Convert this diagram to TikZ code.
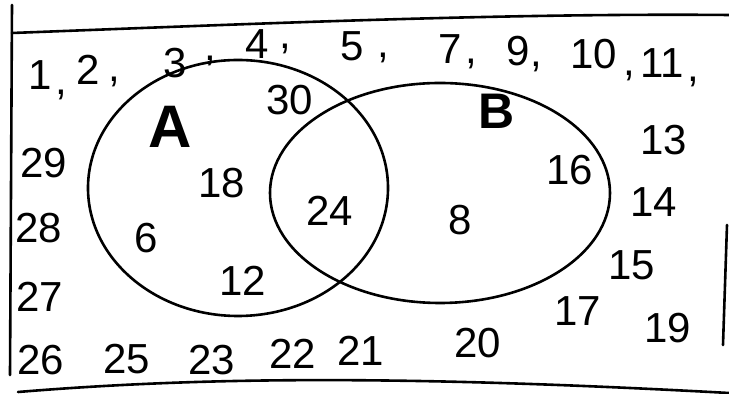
\documentclass[tikz,border=0pt]{standalone}
\usepackage{fontspec}
\setmainfont{Liberation Sans}
\usetikzlibrary{positioning}

\tikzset{
  num/.style={font=\fontsize{21}{21}\selectfont, inner sep=0pt},
  setlbl/.style={font=\bfseries, inner sep=0pt},
  pen/.style={line width=1.3pt, line cap=round}
}

\begin{document}
\begin{tikzpicture}[x=0.5pt, y=-0.5pt]
  \useasboundingbox (0,0) rectangle (729,394);

  % Frame of the universal set
  \draw[pen] (12,5) -- (10,375);
  \draw[pen] (12,33) .. controls (250,24) and (500,13) .. (729,15);
  \draw[pen] (18,392) .. controls (200,377) and (400,375) .. (729,393);
  \draw[pen] (727,225) -- (723,345);

  % Sets A and B
  \draw[pen] (238,188) ellipse [x radius=75pt, y radius=64pt];
  \draw[pen] (440,193) ellipse [x radius=85pt, y radius=55pt];
  \node[setlbl, font=\bfseries\fontsize{30}{30}\selectfont] (lblA) at (170,127) {A};
  \node[setlbl, font=\bfseries\fontsize{25}{25}\selectfont] (lblB) at (497,111) {B};

  % Elements inside the sets
  \foreach \name/\v/\x/\y in {a30/30/290/100, a18/18/222/183, a6/6/146/238, a12/12/243/281,
                              ab24/24/330/211, b8/8/460/220, b16/16/570/170} {
    \node[num] (\name) at (\x,\y) {\v};
  }

  % Elements outside, top row
  \foreach \v/\x/\y in {1/40/75, 2/88/70, 3/175/63, 4/257/44, 5/352/46,
                        7/450/49, 9/518/51, 10/594/54, 11/662/63} {
    \node[num] (u\v) at (\x,\y) {\v};
  }
  \foreach \x/\y [count=\i] in {61/95, 114/82, 210/61, 285/49, 383/58,
                                471/64, 536/67, 629/76, 693/82} {
    \node[num] (comma\i) at (\x,\y) {,};
  }

  % Elements outside, around the sets
  \foreach \v/\x/\y in {13/664/140, 14/654/202, 15/632/265, 17/578/311, 19/668/328,
                        29/44/163, 28/39/228, 27/40/297, 26/41/360, 25/127/359,
                        23/212/360, 22/293/354, 21/361/351, 20/478/343} {
    \node[num] (u\v) at (\x,\y) {\v};
  }
\end{tikzpicture}
\end{document}
